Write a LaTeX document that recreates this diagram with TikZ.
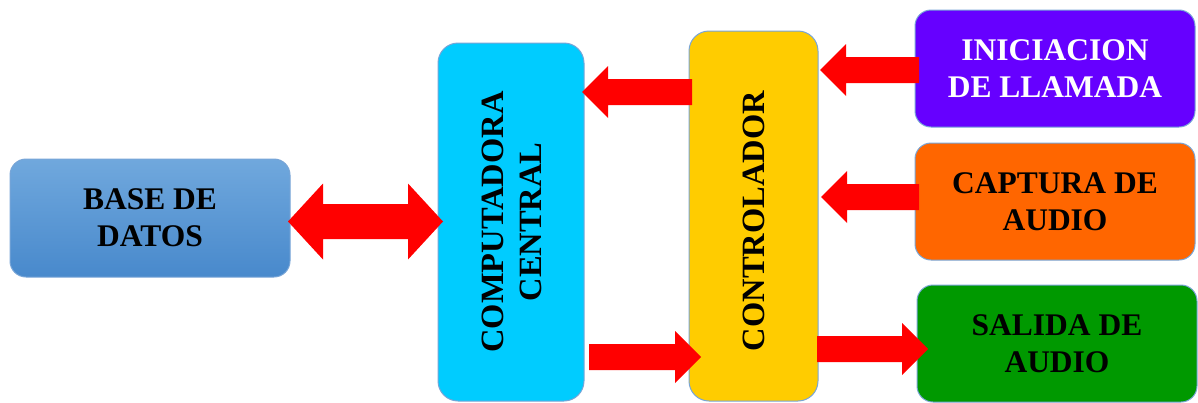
\documentclass[tikz,border=0pt]{standalone}
\usepackage{fontspec}
\setmainfont{Liberation Serif}
\usetikzlibrary{calc}

\definecolor{arrowred}{RGB}{255,0,0}
\definecolor{edgeblue}{RGB}{120,165,215}
\definecolor{dbtop}{RGB}{112,168,221}
\definecolor{dbbot}{RGB}{72,137,204}
\definecolor{compcyan}{RGB}{0,204,255}
\definecolor{ctrlyellow}{RGB}{255,204,0}
\definecolor{callviolet}{RGB}{102,0,255}
\definecolor{captorange}{RGB}{255,102,0}
\definecolor{outgreen}{RGB}{0,153,0}

\tikzset{
  block/.style={draw=edgeblue, line width=1pt, rounded corners=16pt,
    inner sep=0pt, outer sep=0pt, align=center,
    font=\fontsize{31.5}{37}\selectfont\bfseries},
  tallblock/.style={block, rounded corners=20pt,
    font=\fontsize{32.5}{38}\selectfont\bfseries},
  % one-headed block arrow, horizontal, from start to target
  fatarrow/.style={fill=arrowred, draw=none,
    to path={let \p1=(\tikztostart), \p2=(\tikztotarget),
      \n1={sign(\x2-\x1)} in
      ({\x1},{\y1+13pt}) -- ({\x2-\n1*26pt},{\y1+13pt})
      -- ({\x2-\n1*26pt},{\y1+26pt}) -- ({\x2},{\y1})
      -- ({\x2-\n1*26pt},{\y1-26pt}) -- ({\x2-\n1*26pt},{\y1-13pt})
      -- ({\x1},{\y1-13pt}) -- cycle}},
  % two-headed block arrow, start left of target
  fatdouble/.style={fill=arrowred, draw=none,
    to path={let \p1=(\tikztostart), \p2=(\tikztotarget) in
      ({\x1},{\y1}) -- ({\x1+35pt},{\y1+38pt}) -- ({\x1+35pt},{\y1+17.5pt})
      -- ({\x2-35pt},{\y1+17.5pt}) -- ({\x2-35pt},{\y1+38pt})
      -- ({\x2},{\y1}) -- ({\x2-35pt},{\y1-38pt}) -- ({\x2-35pt},{\y1-17.5pt})
      -- ({\x1+35pt},{\y1-17.5pt}) -- ({\x1+35pt},{\y1-38pt}) -- cycle}}
}

\begin{document}
\begin{tikzpicture}[x=1pt, y=-1pt]
\useasboundingbox (0,0) rectangle (1198,402);

% blocks
\node[block, top color=dbtop, bottom color=dbbot,
      minimum width=280pt, minimum height=118pt] (base) at (150,218)
      {BASE DE\\DATOS};
\node[tallblock, fill=compcyan, minimum width=146pt, minimum height=358pt]
      (comp) at (511,222)
      {\hspace*{8pt}\rotatebox{90}{\begin{tabular}{@{}c@{}}COMPUTADORA\\CENTRAL\end{tabular}}};
\node[tallblock, fill=ctrlyellow, minimum width=129pt, minimum height=370pt]
      (ctrl) at (753.5,216) {\rotatebox{90}{CONTROLADOR\hspace*{10pt}}};
\node[block, fill=callviolet, text=white, minimum width=280pt, minimum height=117pt]
      (call) at (1055,68.5) {INICIACION\\DE LLAMADA};
\node[block, fill=captorange, minimum width=280pt, minimum height=117pt]
      (capt) at (1055,201.5) {CAPTURA DE\\AUDIO};
\node[block, fill=outgreen, minimum width=280pt, minimum height=117pt]
      (sout) at (1057,343.5) {SALIDA DE\\AUDIO};

% arrow heights
\coordinate (hDb) at (0,221.5);
\coordinate (hUp) at (0,92);
\coordinate (hCall) at (0,70);
\coordinate (hCapt) at (0,197);
\coordinate (hDown) at (0,357);
\coordinate (hOut) at (0,349);

% connectors
\path[fatdouble] ([xshift=-2pt]base.east |- hDb) to ([xshift=5pt]comp.west |- hDb);
\path[fatarrow] ([xshift=3pt]ctrl.west |- hUp) to ([xshift=-2pt]comp.east |- hUp);
\path[fatarrow] ([xshift=4pt]call.west |- hCall) to ([xshift=2pt]ctrl.east |- hCall);
\path[fatarrow] ([xshift=4pt]capt.west |- hCapt) to ([xshift=3pt]ctrl.east |- hCapt);
\path[fatarrow] ([xshift=5pt]comp.east |- hDown) to ([xshift=12pt]ctrl.west |- hDown);
\path[fatarrow] ([xshift=-1pt]ctrl.east |- hOut) to ([xshift=11pt]sout.west |- hOut);
\end{tikzpicture}
\end{document}
